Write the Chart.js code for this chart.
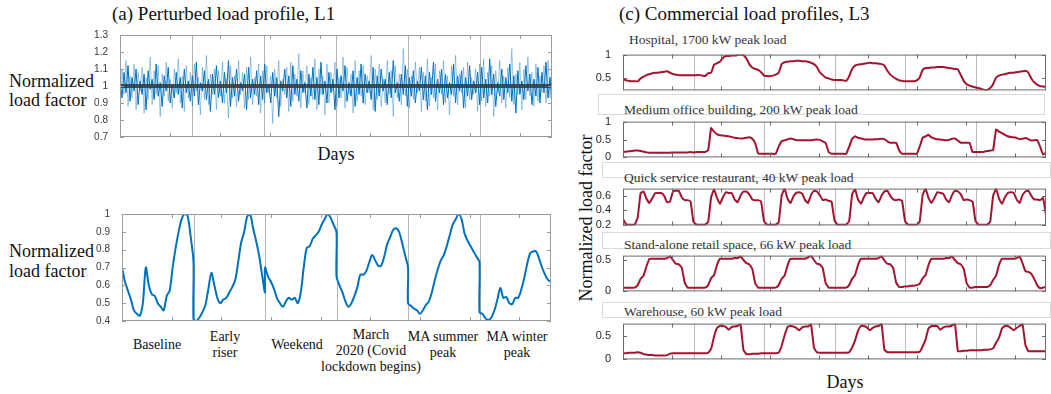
<!DOCTYPE html>
<html>
<head>
<meta charset="utf-8">
<script src="https://cdn.jsdelivr.net/npm/chart.js@4.4.1/dist/chart.umd.min.js"></script>
<style>
  body { margin: 0; background: #fff; width: 1051px; height: 394px; position: relative; overflow: hidden;
         font-family: "Liberation Serif", "Times New Roman", serif; color: #111; }
  .t { position: absolute; white-space: nowrap; line-height: 1; }
  .c { transform: translate(-50%, -50%); text-align: center; }
  .sub { font-size: 13.5px; color: #333; transform: translateY(-50%); }
  .box { position: absolute; border: 1px solid #d9d9d9; box-sizing: border-box; }
  canvas { position: absolute; }
</style>
</head>
<body>
<div class="box" style="left:598px;top:94px;width:447px;height:21px"></div>
<div class="box" style="left:602px;top:162px;width:449px;height:16px"></div>
<div class="box" style="left:602px;top:232px;width:449px;height:17px"></div>
<div class="box" style="left:602px;top:302px;width:449px;height:16px"></div>

<div class="t" style="left:112px;top:13px;font-size:19px;transform:translateY(-50%)">(a) Perturbed load profile, L1</div>
<div class="t" style="left:619px;top:13px;font-size:19px;transform:translateY(-50%)">(c) Commercial load profiles, L3</div>

<div class="t" style="left:9px;top:91px;font-size:18px;line-height:19px;transform:translateY(-50%)">Normalized<br>load factor</div>
<div class="t c" style="left:336px;top:154px;font-size:18px">Days</div>
<div class="t" style="left:9px;top:261px;font-size:18px;line-height:20px;transform:translateY(-50%)">Normalized<br>load factor</div>

<div class="t c" style="left:157px;top:345px;font-size:14px">Baseline</div>
<div class="t c" style="left:225px;top:345px;font-size:14px;line-height:16px">Early<br>riser</div>
<div class="t c" style="left:297px;top:345px;font-size:14px">Weekend</div>
<div class="t c" style="left:371px;top:351px;font-size:14px;line-height:16px">March<br>2020 (Covid<br>lockdown begins)</div>
<div class="t c" style="left:443px;top:345px;font-size:14px;line-height:16px">MA summer<br>peak</div>
<div class="t c" style="left:517px;top:345px;font-size:14px;line-height:16px">MA winter<br>peak</div>

<div class="t sub" style="left:629px;top:40px">Hospital, 1700 kW peak load</div>
<div class="t sub" style="left:624px;top:110px">Medium office building, 200 kW peak load</div>
<div class="t sub" style="left:624px;top:178px">Quick service restaurant, 40 kW peak load</div>
<div class="t sub" style="left:624px;top:245px">Stand-alone retail space, 66 kW peak load</div>
<div class="t sub" style="left:624px;top:312px">Warehouse, 60 kW peak load</div>

<div class="t c" style="left:586px;top:218px;font-size:18px;transform:translate(-50%,-50%) rotate(-90deg)">Normalized load factor</div>
<div class="t c" style="left:845px;top:382px;font-size:18px">Days</div>

<script>
// x axis is in 5-minute samples, 288 per day, six days
const dayBreaks = [288, 576, 864, 1152, 1440];
const sampleTicks = [200, 400, 600, 800, 1000, 1200, 1400, 1600];

// (a) perturbed profiles
const perturbedA = [
  1.04, 0.93, 1.08, 0.96, 1.12, 0.91, 1.05, 0.97, 1.10, 0.89, 1.03, 0.95,
  1.07, 0.86, 1.09, 0.98, 1.04, 0.92, 1.13, 0.94, 1.02, 0.88, 1.06, 0.97,
  1.11, 0.90, 1.01, 0.93, 1.08, 0.95, 1.05, 0.87, 1.10, 0.96, 1.03, 0.91,
  1.06, 0.94, 1.14, 0.89, 1.02, 0.97, 1.09, 0.92, 1.04, 0.85, 1.07, 0.95,
  1.12, 0.93, 1.03, 0.90, 1.08, 0.96, 1.15, 0.88, 1.05, 0.94, 1.10, 0.91,
  1.02, 0.97, 1.07, 0.86, 1.11, 0.93, 1.04, 0.95, 1.09, 0.89, 1.06, 0.92,
  1.13, 0.96, 1.01, 0.90, 1.08, 0.94, 1.05, 0.82, 1.03, 0.97, 1.10, 0.93,
  1.06, 0.88, 1.12, 0.95, 1.04, 0.91, 1.09, 0.96, 1.02, 0.87, 1.07, 0.94,
  1.11, 0.92, 1.05, 0.89, 1.14, 0.95, 1.03, 0.90, 1.08, 0.96, 1.04, 0.86,
  1.10, 0.93, 1.06, 0.97, 1.12, 0.91, 1.02, 0.94, 1.09, 0.88, 1.05, 0.95,
  1.13, 0.90, 1.07, 0.96, 1.03, 0.92, 1.11, 0.85, 1.06, 0.94, 1.10, 0.97,
  1.04, 0.89, 1.08, 0.93, 1.15, 0.96, 1.02, 0.91, 1.07, 0.95, 1.12, 0.88,
  1.05, 0.94, 1.09, 0.90, 1.03, 0.97, 1.11, 0.92, 1.06, 0.86, 1.08, 0.95,
  1.14, 0.91, 1.04, 0.96, 1.10, 0.89, 1.07, 0.93, 1.02, 0.95, 1.13, 0.90,
  1.06, 0.97, 1.09, 0.87, 1.05, 0.94, 1.12, 0.92, 1.03, 0.96, 1.08, 0.89,
  1.11, 0.93, 1.04, 0.90, 1.16, 0.95, 1.07, 0.88, 1.02, 0.94, 1.10, 0.92,
  1.05, 0.96, 1.13, 0.91, 1.06, 0.84, 1.09, 0.95, 1.03, 0.92, 1.12, 0.97,
  1.07, 0.89, 1.04, 0.94, 1.11, 0.90, 1.08, 0.96, 1.14, 0.93, 1.05, 0.91
];
const perturbedB = [
  0.90, 1.10, 0.95, 1.15, 0.88, 1.06, 0.93, 1.13, 0.86, 1.08, 0.97, 1.11,
  0.84, 1.05, 0.92, 1.17, 0.89, 1.09, 0.95, 1.12, 0.82, 1.07, 0.94, 1.14,
  0.91, 1.04, 0.87, 1.10, 0.96, 1.16, 0.90, 1.06, 0.85, 1.12, 0.93, 1.08,
  0.88, 1.13, 0.97, 1.05, 0.83, 1.11, 0.92, 1.18, 0.89, 1.07, 0.95, 1.10,
  0.86, 1.09, 0.94, 1.14, 0.90, 1.04, 0.81, 1.12, 0.93, 1.06, 0.88, 1.15,
  0.95, 1.08, 0.87, 1.11, 0.92, 1.17, 0.89, 1.05, 0.94, 1.13, 0.84, 1.09,
  0.90, 1.12, 0.96, 1.06, 0.78, 1.10, 0.93, 1.15, 0.88, 1.04, 0.95, 1.11,
  0.85, 1.14, 0.91, 1.07, 0.94, 1.19, 0.87, 1.09, 0.96, 1.12, 0.89, 1.05,
  0.92, 1.16, 0.86, 1.10, 0.95, 1.06, 0.83, 1.13, 0.90, 1.08, 0.97, 1.14,
  0.88, 1.05, 0.93, 1.17, 0.87, 1.11, 0.95, 1.07, 0.84, 1.15, 0.91, 1.09,
  0.94, 1.12, 0.89, 1.06, 0.96, 1.18, 0.86, 1.10, 0.92, 1.13, 0.88, 1.04,
  0.90, 1.15, 0.95, 1.09, 0.82, 1.12, 0.93, 1.07, 0.89, 1.22, 0.94, 1.10,
  0.87, 1.06, 0.92, 1.14, 0.96, 1.11, 0.85, 1.08, 0.91, 1.16, 0.88, 1.05,
  0.93, 1.13, 0.86, 1.09, 0.95, 1.15, 0.90, 1.06, 0.83, 1.12, 0.94, 1.18,
  0.89, 1.07, 0.96, 1.11, 0.87, 1.14, 0.92, 1.05, 0.95, 1.10, 0.85, 1.13,
  0.91, 1.16, 0.88, 1.08, 0.94, 1.12, 0.82, 1.09, 0.96, 1.15, 0.90, 1.06,
  0.87, 1.11, 0.93, 1.22, 0.89, 1.07, 0.95, 1.14, 0.86, 1.10, 0.92, 1.17,
  0.94, 1.08, 0.88, 1.13, 0.91, 1.06, 0.96, 1.12, 0.90, 1.15, 0.93, 1.18
];
const meanLoad = [1, 1];

// (a) bottom: one day each, hourly 0..24
const baseline   = [0.70,0.62,0.57,0.52,0.46,0.44,0.43,0.50,0.70,0.60,0.55,0.54,0.50,0.48,0.46,0.54,0.57,0.70,0.81,0.90,0.97,1.00,0.99,0.88,0.73];
const earlyRiser = [0.41,0.40,0.42,0.45,0.49,0.58,0.67,0.60,0.53,0.50,0.52,0.53,0.56,0.59,0.63,0.73,0.84,0.90,0.985,1.00,0.92,0.85,0.77,0.66,0.56];
const weekend    = [0.70,0.65,0.62,0.58,0.53,0.50,0.48,0.51,0.53,0.52,0.53,0.50,0.56,0.70,0.81,0.82,0.86,0.88,0.90,0.94,0.97,1.00,0.98,0.94,0.90];
const march2020  = [0.65,0.60,0.56,0.51,0.48,0.50,0.54,0.59,0.66,0.66,0.68,0.73,0.77,0.74,0.71,0.71,0.76,0.83,0.87,0.91,0.92,0.90,0.84,0.77,0.70];
const maSummer   = [0.50,0.485,0.47,0.46,0.44,0.46,0.49,0.51,0.56,0.63,0.69,0.74,0.77,0.82,0.88,0.94,0.97,1.00,0.97,0.89,0.85,0.82,0.79,0.76,0.73];
const maWinter   = [0.45,0.44,0.415,0.405,0.42,0.46,0.52,0.585,0.53,0.535,0.50,0.495,0.53,0.53,0.575,0.64,0.72,0.78,0.79,0.79,0.75,0.70,0.66,0.63,0.62];

// (c) commercial buildings, hourly over six days
const hospital = [
  0.50,0.46,0.45,0.44,0.44,0.44,0.50,0.54,0.57,0.59,0.61,0.62,0.62,0.63,0.64,0.65,0.62,0.59,0.58,0.57,0.57,0.57,0.57,0.57,
  0.57,0.57,0.57,0.56,0.55,0.61,0.62,0.79,0.82,0.85,0.93,0.97,0.97,0.98,0.98,0.99,1.00,0.99,0.92,0.80,0.73,0.70,0.68,0.63,
  0.56,0.55,0.55,0.56,0.58,0.62,0.80,0.84,0.85,0.86,0.86,0.87,0.87,0.86,0.86,0.85,0.83,0.80,0.74,0.63,0.57,0.52,0.50,0.48,
  0.47,0.47,0.47,0.46,0.45,0.55,0.70,0.77,0.79,0.80,0.81,0.82,0.83,0.82,0.82,0.81,0.80,0.77,0.66,0.58,0.53,0.49,0.46,0.45,
  0.44,0.44,0.44,0.44,0.46,0.52,0.68,0.72,0.72,0.73,0.73,0.74,0.74,0.74,0.73,0.72,0.71,0.70,0.69,0.57,0.45,0.38,0.35,0.33,
  0.31,0.30,0.28,0.26,0.26,0.30,0.38,0.52,0.56,0.58,0.59,0.61,0.62,0.62,0.63,0.64,0.65,0.66,0.62,0.50,0.42,0.37,0.34,0.33,0.32
];
const mediumOffice = [
  0.15,0.16,0.17,0.18,0.19,0.19,0.18,0.16,0.14,0.13,0.13,0.13,0.13,0.13,0.13,0.13,0.13,0.14,0.14,0.14,0.14,0.14,0.14,0.15,
  0.14,0.15,0.15,0.15,0.15,0.20,0.82,0.72,0.65,0.62,0.61,0.60,0.59,0.57,0.55,0.54,0.53,0.53,0.55,0.56,0.52,0.40,0.11,0.10,
  0.10,0.10,0.10,0.10,0.10,0.30,0.45,0.48,0.50,0.53,0.51,0.48,0.48,0.48,0.48,0.48,0.48,0.49,0.50,0.49,0.45,0.40,0.15,0.10,
  0.10,0.10,0.10,0.10,0.10,0.30,0.52,0.59,0.55,0.53,0.51,0.50,0.50,0.50,0.51,0.51,0.52,0.51,0.45,0.41,0.41,0.41,0.20,0.10,
  0.10,0.10,0.10,0.10,0.10,0.30,0.55,0.59,0.63,0.56,0.53,0.51,0.50,0.49,0.48,0.49,0.52,0.53,0.47,0.41,0.41,0.41,0.41,0.15,
  0.15,0.15,0.15,0.16,0.18,0.19,0.20,0.78,0.72,0.68,0.63,0.59,0.57,0.56,0.54,0.51,0.52,0.54,0.51,0.47,0.48,0.49,0.30,0.08,0.13
];
const quickService = [
  0.28,0.21,0.20,0.20,0.20,0.30,0.64,0.66,0.56,0.50,0.57,0.64,0.64,0.64,0.60,0.51,0.52,0.66,0.67,0.67,0.58,0.54,0.54,0.52,
  0.24,0.20,0.20,0.20,0.20,0.24,0.58,0.69,0.57,0.49,0.58,0.65,0.64,0.64,0.55,0.51,0.60,0.66,0.66,0.62,0.55,0.54,0.54,0.52,
  0.25,0.20,0.20,0.20,0.20,0.23,0.60,0.70,0.56,0.50,0.59,0.64,0.65,0.63,0.54,0.50,0.61,0.67,0.66,0.61,0.54,0.55,0.53,0.52,
  0.26,0.20,0.20,0.20,0.20,0.25,0.62,0.69,0.55,0.49,0.58,0.64,0.64,0.64,0.56,0.51,0.60,0.66,0.67,0.60,0.55,0.54,0.55,0.53,
  0.25,0.20,0.20,0.20,0.20,0.24,0.61,0.70,0.57,0.50,0.57,0.65,0.64,0.63,0.55,0.51,0.61,0.67,0.66,0.62,0.54,0.55,0.54,0.52,
  0.25,0.20,0.20,0.20,0.20,0.24,0.60,0.70,0.56,0.49,0.58,0.64,0.65,0.64,0.55,0.50,0.61,0.66,0.67,0.60,0.55,0.55,0.54,0.57,0.33
];
const standAloneRetail = [
  0.06,0.06,0.06,0.06,0.06,0.10,0.20,0.25,0.40,0.52,0.52,0.52,0.52,0.52,0.52,0.53,0.56,0.50,0.44,0.43,0.38,0.14,0.06,0.06,
  0.06,0.06,0.06,0.06,0.06,0.10,0.21,0.26,0.42,0.52,0.52,0.52,0.52,0.52,0.53,0.53,0.56,0.50,0.45,0.43,0.36,0.13,0.06,0.06,
  0.06,0.06,0.06,0.06,0.06,0.10,0.20,0.25,0.41,0.52,0.52,0.52,0.52,0.52,0.52,0.54,0.57,0.50,0.44,0.43,0.37,0.13,0.06,0.06,
  0.06,0.06,0.06,0.06,0.06,0.10,0.20,0.26,0.42,0.52,0.52,0.52,0.52,0.52,0.52,0.53,0.56,0.49,0.44,0.43,0.37,0.14,0.07,0.07,
  0.08,0.08,0.09,0.09,0.10,0.12,0.21,0.26,0.42,0.52,0.52,0.52,0.52,0.52,0.53,0.53,0.56,0.50,0.45,0.43,0.36,0.13,0.06,0.06,
  0.07,0.07,0.07,0.07,0.07,0.10,0.18,0.25,0.42,0.52,0.52,0.52,0.52,0.52,0.53,0.56,0.45,0.32,0.31,0.28,0.20,0.10,0.05,0.06,0.07
];
const warehouse = [
  0.13,0.13,0.14,0.14,0.14,0.15,0.14,0.11,0.10,0.09,0.09,0.08,0.08,0.08,0.08,0.09,0.12,0.13,0.13,0.13,0.13,0.13,0.13,0.13,
  0.13,0.13,0.13,0.13,0.13,0.14,0.22,0.48,0.66,0.70,0.70,0.68,0.62,0.68,0.69,0.70,0.74,0.20,0.11,0.11,0.12,0.12,0.12,0.13,
  0.13,0.13,0.13,0.13,0.13,0.14,0.28,0.50,0.68,0.70,0.69,0.66,0.61,0.67,0.69,0.69,0.74,0.25,0.15,0.14,0.14,0.14,0.14,0.14,
  0.14,0.14,0.14,0.14,0.14,0.15,0.25,0.40,0.60,0.70,0.70,0.67,0.61,0.66,0.69,0.70,0.75,0.20,0.15,0.15,0.15,0.15,0.15,0.15,
  0.15,0.15,0.15,0.15,0.15,0.16,0.27,0.42,0.65,0.70,0.70,0.70,0.62,0.67,0.69,0.69,0.71,0.75,0.17,0.17,0.18,0.18,0.19,0.19,
  0.19,0.19,0.19,0.20,0.20,0.21,0.23,0.35,0.45,0.65,0.70,0.70,0.66,0.61,0.66,0.70,0.74,0.30,0.17,0.17,0.17,0.17,0.17,0.17,0.17
];

const BLUE = '#0072BD';
const RED = '#A2142F';
const YW = 40, PAD = 8;

// matlab style box, inward ticks and day lines
const matlabAxes = {
  id: 'matlabAxes',
  beforeDatasetsDraw(chart, args, o) {
    const { ctx, chartArea: a, scales: { x } } = chart;
    ctx.save();
    ctx.strokeStyle = o.gridColor;
    ctx.lineWidth = 1;
    dayBreaks.forEach(v => {
      const px = Math.round(x.getPixelForValue(v)) + 0.5;
      ctx.beginPath(); ctx.moveTo(px, a.top); ctx.lineTo(px, a.bottom); ctx.stroke();
    });
    ctx.restore();
  },
  afterDatasetsDraw(chart, args, o) {
    const { ctx, chartArea: a, scales: { x, y } } = chart;
    ctx.save();
    ctx.strokeStyle = o.boxColor;
    ctx.lineWidth = 1;
    ctx.beginPath();
    sampleTicks.forEach(v => {
      const px = Math.round(x.getPixelForValue(v)) + 0.5;
      ctx.moveTo(px, a.bottom); ctx.lineTo(px, a.bottom - o.tick);
      ctx.moveTo(px, a.top); ctx.lineTo(px, a.top + o.tick);
    });
    y.ticks.forEach(t => {
      const py = Math.round(y.getPixelForValue(t.value)) + 0.5;
      ctx.moveTo(a.left, py); ctx.lineTo(a.left + o.tick, py);
      ctx.moveTo(a.right, py); ctx.lineTo(a.right - o.tick, py);
    });
    ctx.stroke();
    ctx.strokeRect(a.left + 0.5, a.top + 0.5, a.width - 1, a.height - 1);
    ctx.restore();
  }
};

function panel(x0, y0, x1, y1, datasets, yMin, yMax, yTicks, look) {
  const cv = document.createElement('canvas');
  cv.width = YW + (x1 - x0) + PAD;
  cv.height = PAD * 2 + (y1 - y0);
  cv.style.left = (x0 - YW) + 'px';
  cv.style.top = (y0 - PAD) + 'px';
  document.body.appendChild(cv);
  return new Chart(cv, {
    type: 'line',
    data: { datasets },
    options: {
      responsive: false,
      animation: false,
      layout: { padding: { left: 0, top: PAD, right: PAD, bottom: PAD } },
      elements: { point: { radius: 0 } },
      plugins: {
        legend: { display: false },
        tooltip: { enabled: false },
        matlabAxes: { boxColor: look.box, gridColor: look.grid, tick: 4 }
      },
      scales: {
        x: { type: 'linear', min: 0, max: 1728, display: false },
        y: {
          min: yMin, max: yMax,
          afterFit: s => { s.width = YW; },
          afterBuildTicks: s => { s.ticks = yTicks.map(v => ({ value: v })); },
          grid: { display: false },
          border: { display: false },
          ticks: {
            padding: 4,
            color: look.label,
            font: { family: '"Liberation Sans", Arial, sans-serif', size: look.size },
            callback: v => String(v)
          }
        }
      }
    },
    plugins: [matlabAxes]
  });
}

function spread(values) {
  const step = 1728 / (values.length - 1);
  return values.map((v, i) => ({ x: i * step, y: v }));
}
function hourly(values) {
  return values.map((v, i) => ({ x: i * 12, y: v }));
}

const leftLook = { box: '#9a9a9a', grid: '#b4b4b4', label: '#3a3a3a', size: 10 };
const rightLook = { box: '#6a6a6a', grid: '#bcbcbc', label: '#262626', size: 11 };

// (a) top
panel(120, 33, 552, 139, [
  { data: [{ x: 0, y: meanLoad[0] }, { x: 1728, y: meanLoad[1] }], borderColor: 'rgba(45,55,65,0.85)', borderWidth: 4 },
  { data: spread(perturbedB), borderColor: 'rgba(0,114,189,0.38)', borderWidth: 1 },
  { data: spread(perturbedA), borderColor: BLUE, borderWidth: 1 }
], 0.7, 1.3, [0.7, 0.8, 0.9, 1, 1.1, 1.2, 1.3], leftLook);

// (a) bottom
const scenarios = [baseline, earlyRiser, weekend, march2020, maSummer, maWinter];
const scenarioPoints = [];
scenarios.forEach((day, k) => {
  day.forEach((v, h) => scenarioPoints.push({ x: k * 288 + h * 12, y: v }));
});
panel(122, 212, 551, 323, [
  { data: scenarioPoints, borderColor: BLUE, borderWidth: 2, tension: 0.3 }
], 0.4, 1.0, [0.4, 0.5, 0.6, 0.7, 0.8, 0.9, 1], leftLook);

// (c) commercial
const redLine = d => [{ data: hourly(d), borderColor: RED, borderWidth: 2, tension: 0.1 }];
panel(623, 52, 1046, 93, redLine(hospital), 0.25, 1, [0.5, 1], rightLook);
panel(623, 119, 1046, 160, redLine(mediumOffice), 0, 1, [0, 0.5, 1], rightLook);
panel(623, 186, 1046, 228, redLine(quickService), 0.19, 0.7, [0.2, 0.4, 0.6], rightLook);
panel(623, 253, 1046, 294, redLine(standAloneRetail), 0, 0.57, [0, 0.5], rightLook);
panel(623, 321, 1046, 362, redLine(warehouse), 0, 0.75, [0, 0.5], rightLook);
</script>
</body>
</html>
